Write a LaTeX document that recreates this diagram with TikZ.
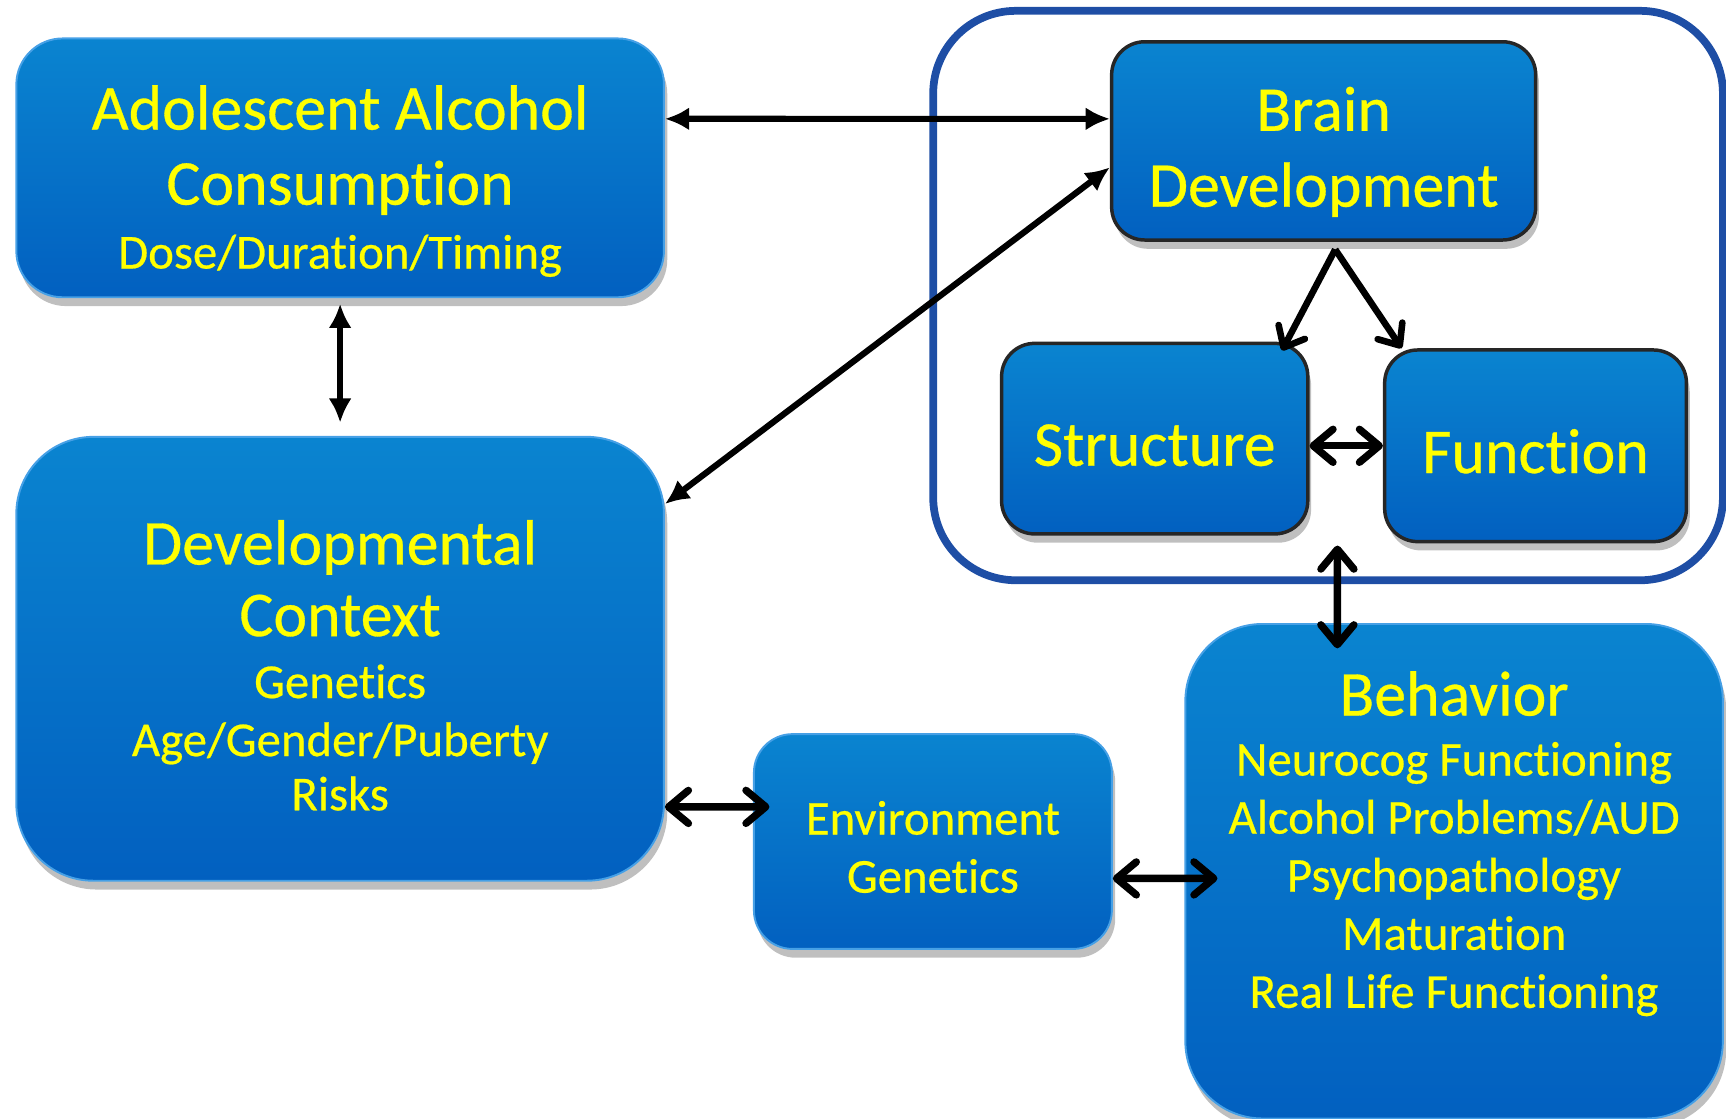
\documentclass[tikz,border=0pt]{standalone}
\usepackage{fontspec}
\setmainfont{Carlito}[Ligatures=NoCommon, FakeBold=0.5]
\usetikzlibrary{arrows.meta,shadows}
\definecolor{boxtop}{RGB}{10,132,208}
\definecolor{boxbot}{RGB}{2,96,192}
\definecolor{boxrim}{RGB}{70,160,230}
\definecolor{framecol}{RGB}{30,78,165}
\definecolor{txtyel}{RGB}{255,255,0}
\newcommand{\bigtxt}{\fontsize{16.5}{19.6}\selectfont}
\newcommand{\smalltxt}{\fontsize{12.6}{15}\selectfont}
\begin{document}
\begin{tikzpicture}[x=0.01cm,y=-0.01cm,
    blk/.style={rounded corners=#1, top color=boxtop, bottom color=boxbot, draw=boxrim, line width=0.5pt,
        drop shadow={shadow xshift=0.03cm, shadow yshift=-0.08cm, opacity=0.5}},
    blk/.default=0.3cm,
    inblk/.style={blk, draw=black!85, line width=0.9pt},
    txt/.style={text=txtyel, align=center, font=\smalltxt, inner sep=0pt},
    twohead/.style={{Latex[length=0.22cm,width=0.21cm]}-{Latex[length=0.22cm,width=0.21cm]}, line width=1.6pt},
    onebarb/.style={-{Straight Barb[length=0.16cm,width=0.27cm,round]}, line width=1.7pt},
    twobarb/.style={{Straight Barb[length=0.18cm,width=0.3cm,round]}-{Straight Barb[length=0.18cm,width=0.3cm,round]}, line width=1.9pt}]
    \useasboundingbox (0,0) rectangle (1568,1016);
    \node[draw=framecol, line width=2pt, rounded corners=0.75cm, minimum width=7.17cm, minimum height=5.17cm] (brainframe) at (1206.5,268.5) {};
    \node[blk=0.42cm, minimum width=5.88cm, minimum height=2.35cm] (alc) at (309,152.5) {};
    \node[blk=0.7cm, minimum width=5.88cm, minimum height=4.03cm] (dev) at (309,598.5) {};
    \node[blk=0.35cm, minimum width=3.25cm, minimum height=1.95cm] (env) at (847.5,764.5) {};
    \node[blk=0.7cm, minimum width=4.88cm, minimum height=4.49cm] (beh) at (1321,791.5) {};
    \node[inblk, minimum width=3.85cm, minimum height=1.8cm] (brain) at (1202.5,128) {};
    \node[inblk, minimum width=2.78cm, minimum height=1.73cm] (struct) at (1049,398.5) {};
    \node[inblk, minimum width=2.74cm, minimum height=1.74cm] (func) at (1395,405) {};
    \node[txt] (alctxt) at ([yshift=-0.12cm]alc.center)
        {{\bigtxt Adolescent Alcohol}\\[4.4pt]{\bigtxt Consumption}\\[1.5pt]Dose/Duration/Timing};
    \node[txt] (devtxt) at ([yshift=-0.06cm]dev.center)
        {{\bigtxt Developmental}\\[3.5pt]{\bigtxt Context}\\[1pt]Genetics\\Age/Gender/Puberty\\[-1pt]Risks};
    \node[txt] (envtxt) at ([yshift=-0.05cm]env.center) {Environment\\Genetics};
    \node[txt] (behtxt) at ([yshift=0.25cm]beh.center)
        {{\bigtxt Behavior}\\[0.5pt]Neurocog Functioning\\Alcohol Problems/AUD\\Psychopathology\\Maturation\\Real Life Functioning};
    \node[txt, font=\bigtxt] (braintxt) at ([yshift=-0.1cm]brain.center) {Brain\\Development};
    \node[txt, font=\bigtxt] (structtxt) at ([yshift=-0.06cm]struct.center) {Structure};
    \node[txt, font=\bigtxt] (functxt) at ([yshift=-0.05cm]func.center) {Function};
    \draw[twohead] ([yshift=0.445cm]alc.east) -- ([yshift=0.2cm]brain.west);
    \draw[twohead, shorten <=0.05cm, shorten >=0.12cm] (alc.south) -- (dev.north);
    \draw[twohead] ([yshift=-0.24cm]brain.west) -- ([yshift=1.405cm]dev.east);
    \draw[onebarb] ([xshift=0.105cm,yshift=-0.07cm]brain.south) -- ([xshift=-0.25cm,yshift=-0.08cm]struct.north east);
    \draw[onebarb] ([xshift=0.105cm,yshift=-0.07cm]brain.south) -- ([xshift=0.17cm]func.north west);
    \draw[twobarb] (struct.east |- func.west) -- (func.west);
    \draw[twobarb] ([xshift=0.085cm,yshift=0.35cm]brainframe.south) -- ([xshift=-1.06cm,yshift=-0.23cm]beh.north);
    \draw[twobarb] ([yshift=-1.345cm]dev.east) -- ([xshift=0.15cm,yshift=0.315cm]env.west);
    \draw[twobarb] ([yshift=-0.335cm]env.east) -- ([xshift=0.3cm,yshift=-0.065cm]beh.west);
\end{tikzpicture}
\end{document}
